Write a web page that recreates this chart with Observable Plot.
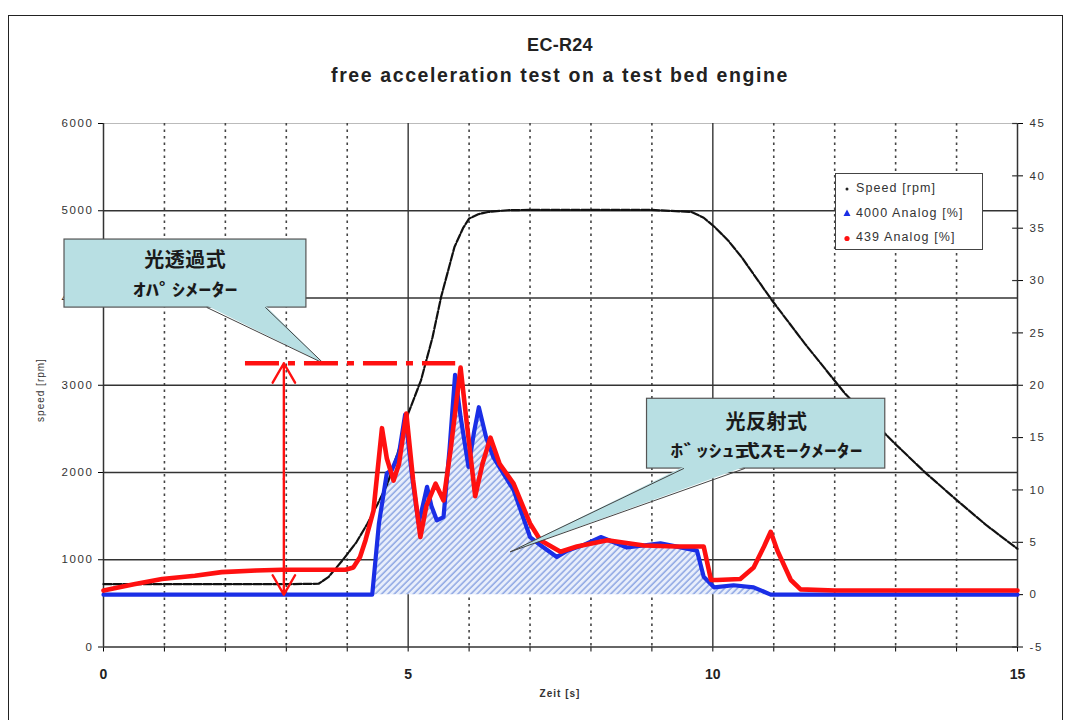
<!DOCTYPE html>
<html><head><meta charset="utf-8">
<script src="https://cdn.jsdelivr.net/npm/d3@7"></script>
<script src="https://cdn.jsdelivr.net/npm/@observablehq/plot@0.6"></script>
<style>
html,body{margin:0;padding:0;background:#fff;width:1071px;height:720px;overflow:hidden;font-family:"Liberation Sans",Arial,sans-serif;}
#frame{position:absolute;left:8px;top:15px;width:1055px;height:730px;border:1px solid #222;box-sizing:border-box;}
#title{position:absolute;left:60px;top:30px;width:1000px;text-align:center;font-weight:bold;color:#222;line-height:30px;}
#title .t1{font-size:18px;letter-spacing:0.3px;}
#title .t2{font-size:19.5px;letter-spacing:1.6px;}
#chart{position:absolute;left:0;top:96px;}
#ylab{position:absolute;left:40px;top:390px;transform:translate(-50%,-50%) rotate(-90deg);font-size:10px;color:#333;letter-spacing:1px;white-space:nowrap;}
#xlab{position:absolute;left:560px;top:693px;transform:translate(-50%,-50%);font-size:10px;color:#333;letter-spacing:1px;font-weight:bold;white-space:nowrap;}
#legend{position:absolute;left:835px;top:173px;width:148px;height:77px;box-sizing:border-box;border:1.5px solid #444;background:#fff;font-size:12.5px;color:#333;letter-spacing:1.1px;}
#legend .row{position:absolute;left:6px;height:20px;line-height:20px;white-space:nowrap;}
#legend svg{vertical-align:middle;margin-right:4px;}
</style></head>
<body>
<div id="frame"></div>
<div id="title"><div class="t1">EC-R24</div><div class="t2">free acceleration test on a test bed engine</div></div>
<div id="chart"></div>
<div id="ylab">speed [rpm]</div>
<div id="xlab">Zeit [s]</div>
<div id="legend"></div>
<script>
// ---- data ----
const speedT   = [0, 1, 2, 3, 3.53, 3.69, 3.93, 4.15, 4.33, 4.5, 4.66, 4.85, 5.0, 5.21, 5.4, 5.54, 5.76, 5.9, 6.0, 6.15, 6.31, 6.63, 7, 8, 9, 9.65, 9.85, 10.03, 10.25, 10.47, 10.97, 11.51, 12.17, 12.99, 13.5, 14.04, 14.5, 15];
const speedRpm = [720, 720, 720, 720, 725, 800, 1000, 1200, 1413, 1640, 1872, 2270, 2674, 3056, 3550, 4011, 4585, 4800, 4910, 4960, 4986, 5006, 5010, 5010, 5010, 4986, 4920, 4814, 4660, 4470, 3974, 3477, 2904, 2330, 1990, 1661, 1390, 1126];

const blueT   = [0, 4.41, 4.52, 4.65, 4.73, 4.85, 4.95, 5.06, 5.17, 5.24, 5.31, 5.38, 5.47, 5.58, 5.68, 5.77, 5.86, 5.99, 6.08, 6.16, 6.28, 6.4, 6.73, 7.0, 7.2, 7.44, 7.61, 7.9, 8.16, 8.59, 9.14, 9.74, 9.85, 10.02, 10.34, 10.67, 10.95, 15];
const bluePct = [0, 0, 6.8, 11.6, 11.9, 13.5, 17.2, 11.5, 6.8, 8.5, 10.3, 8.5, 7.1, 7.4, 14, 21.0, 17, 12.2, 15.5, 17.9, 15, 13.1, 10.0, 5.5, 4.6, 3.6, 4.2, 4.8, 5.5, 4.5, 4.9, 4.2, 1.7, 0.7, 0.9, 0.7, 0, 0];

const redT   = [0, 0.5, 0.96, 1.5, 1.94, 2.5, 2.93, 3.5, 3.97, 4.1, 4.21, 4.3, 4.43, 4.57, 4.65, 4.76, 4.85, 4.97, 5.08, 5.2, 5.3, 5.45, 5.58, 5.7, 5.86, 5.95, 6.1, 6.22, 6.35, 6.5, 6.73, 7.0, 7.17, 7.5, 7.77, 8.27, 8.87, 9.4, 9.85, 9.97, 10.07, 10.45, 10.67, 10.84, 10.95, 11.06, 11.28, 11.44, 12, 13, 14, 15];
const redPct = [0.4, 1.0, 1.5, 1.8, 2.15, 2.3, 2.38, 2.38, 2.38, 2.6, 3.6, 5.2, 8.0, 15.9, 13, 10.9, 12.5, 17.3, 11, 5.5, 8.5, 10.6, 9.0, 14, 21.7, 17, 9.4, 12.5, 15.0, 12.5, 10.6, 6.8, 5.2, 4.1, 4.6, 5.2, 4.7, 4.6, 4.6, 1.4, 1.4, 1.5, 2.6, 4.6, 6.0, 4.2, 1.4, 0.5, 0.4, 0.4, 0.4, 0.4];

const leftTicks   = [0, 1000, 2000, 3000, 4000, 5000, 6000];
const rightTicks  = [-5, 0, 5, 10, 15, 20, 25, 30, 35, 40, 45];
const xTickValues = [0, 1, 2, 3, 4, 5, 6, 7, 8, 9, 10, 11, 12, 13, 14, 15];
const xTickLabels = ["0", "", "", "", "", "5", "", "", "", "", "10", "", "", "", "", "15"];
const gridRpm     = [1000, 2000, 3000, 4000, 5000];
const gridMajorT  = [5, 10];
const gridMinorT  = [1, 2, 3, 4, 6, 7, 8, 9, 11, 12, 13, 14];

const seriesNames = ["Speed [rpm]", "4000 Analog [%]", "439 Analog [%]"];
const callout1 = {id: "c1", lines: ["光透過式", "ｵﾊﾟｼﾒｰﾀｰ"], line2Len: 105, t1: -0.64, t2: 3.33, r1: 3890, r2: 4670, baseT: [1.70, 2.66], tipT: 3.61, tipPct: 22.1, textT: 1.34, textR: [4425, 4090]};
const callout2 = {id: "c2", lines: ["光反射式", "ﾎﾞｯｼｭ式ｽﾓｰｸﾒｰﾀｰ"], line2Len: 192, t1: 8.92, t2: 12.83, r1: 2045, r2: 2845, baseT: [9.52, 10.52], tipT: 6.68, tipPct: 4.1, textT: 10.88, textR: [2570, 2240]};
const opacLevel = {pct: 22.1, t1: 2.33, t2: 5.78, arrowT: 2.96, basePct: 0};

// ---- helpers ----
const toRpm = p => (p + 5) * 120;   // right axis (%) -> left axis (rpm)
const speed = speedT.map((t, i) => ({t, rpm: speedRpm[i]}));
const blue  = blueT.map((t, i) => ({t, pct: bluePct[i]}));
const red   = redT.map((t, i) => ({t, pct: redPct[i]}));

const fillC = "#b8dfe3";
function calloutMarks(c) {
  const tip = {t: c.tipT, r: toRpm(c.tipPct)};
  const poly = [{t: c.baseT[0], r: c.r1 + 20}, tip, {t: c.baseT[1], r: c.r1 + 20}];
  return [
    Plot.rect([c], {x1: "t1", x2: "t2", y1: "r1", y2: "r2", fill: fillC, stroke: "#555", strokeWidth: 1.2}),
    Plot.line(poly, {x: "t", y: "r", fill: fillC, stroke: "none"}),
    Plot.line([{t: c.baseT[0], r: c.r1}, tip], {x: "t", y: "r", stroke: "#444", strokeWidth: 1}),
    Plot.line([{t: c.baseT[1], r: c.r1}, tip], {x: "t", y: "r", stroke: "#444", strokeWidth: 1}),
    Plot.text([c.lines[0]], {x: c.textT, y: c.textR[0], text: d => d, fontSize: 20, fontWeight: "bold", fill: "#1a1a1a", fontFamily: "Noto Sans CJK JP", className: "cjk1"}),
    Plot.text([c.lines[1]], {x: c.textT, y: c.textR[1], text: d => d, fontSize: 17, fontWeight: "bold", fill: "#1a1a1a", fontFamily: "Noto Sans CJK JP", className: "cjk2 " + c.id})
  ];
}

const mid = (opacLevel.pct + opacLevel.basePct) / 2;
const plot = Plot.plot({
  width: 1071, height: 624,
  marginLeft: 103, marginRight: 54, marginTop: 27, marginBottom: 73.5,
  x: {domain: [0, 15]},
  y: {domain: [0, 6000]},
  style: {background: "transparent", fontFamily: "Liberation Sans, Arial, sans-serif", overflow: "visible"},
  marks: [
    Plot.ruleY([6000], {stroke: "#bbb", strokeWidth: 1}),
    Plot.ruleX(gridMinorT, {stroke: "#444", strokeWidth: 1.6, strokeDasharray: "2.5,4"}),
    Plot.ruleX(gridMajorT, {stroke: "#333", strokeWidth: 1.4}),
    Plot.ruleY(gridRpm, {stroke: "#333", strokeWidth: 1.3}),
    Plot.axisY({anchor: "left", ticks: leftTicks, tickSize: 5, tickPadding: 5, fontSize: 11.5, label: null, tickFormat: d => String(d)}),
    Plot.axisY({anchor: "right", ticks: rightTicks.map(toRpm), tickSize: 5, tickPadding: 7, fontSize: 11.5, label: null, tickFormat: d => String(Math.round(d / 120 - 5))}),
    Plot.ruleY(rightTicks.map(toRpm), {x1: 14.92, x2: 15, stroke: "#333", strokeWidth: 1.2}),
    Plot.axisX({ticks: xTickValues, tickSize: 5, tickPadding: 17, fontSize: 14, fontWeight: "bold", label: null, tickFormat: d => xTickLabels[xTickValues.indexOf(d)]}),
    Plot.ruleX([0, 15], {stroke: "#333", strokeWidth: 1.5}),
    Plot.ruleY([0], {stroke: "#333", strokeWidth: 1.5}),
    Plot.areaY(blue, {x: "t", y1: toRpm(0), y2: d => toRpm(d.pct), fill: "url(#hatch)"}),
    Plot.line(speed, {x: "t", y: "rpm", stroke: "#111", strokeWidth: 2.2, strokeDasharray: "8,2"}),
    Plot.line(blue, {x: "t", y: d => toRpm(d.pct), stroke: "#1a2ee6", strokeWidth: 4.2, strokeLinejoin: "round"}),
    Plot.line(red, {x: "t", y: d => toRpm(d.pct), stroke: "#ff1010", strokeWidth: 4.6, strokeLinejoin: "round"}),
    ...calloutMarks(callout1),
    ...calloutMarks(callout2),
    Plot.ruleY([opacLevel], {y: d => toRpm(d.pct), x1: "t1", x2: "t2", stroke: "#ff1010", strokeWidth: 4.5, strokeDasharray: "34,9,7,9"}),
    Plot.arrow([opacLevel], {x1: "arrowT", x2: "arrowT", y1: toRpm(mid), y2: d => toRpm(d.pct), stroke: "#ff1010", strokeWidth: 2.4, headLength: 14}),
    Plot.arrow([opacLevel], {x1: "arrowT", x2: "arrowT", y1: toRpm(mid), y2: d => toRpm(d.basePct), stroke: "#ff1010", strokeWidth: 2.4, headLength: 14})
  ]
});

// hatch pattern for the area under the 4000 series
const defs = d3.select(plot).insert("defs", ":first-child");
const pat = defs.append("pattern").attr("id", "hatch").attr("patternUnits", "userSpaceOnUse")
  .attr("width", 4.5).attr("height", 4.5).attr("patternTransform", "rotate(45)");
pat.append("rect").attr("width", 4.5).attr("height", 4.5).attr("fill", "#e8eefb");
pat.append("line").attr("x1", 1).attr("y1", 0).attr("x2", 1).attr("y2", 4.5).attr("stroke", "#7f9be0").attr("stroke-width", 1.3);

// text styling tweaks
d3.select(plot).selectAll('g[aria-label="y-axis tick label"] text').attr("letter-spacing", "1.6px").attr("fill", "#333");
d3.select(plot).selectAll('g[aria-label="x-axis tick label"] text').attr("fill", "#222");
d3.select(plot).selectAll(".cjk1 text").attr("letter-spacing", "0.5px");
[callout1, callout2].forEach(c => {
  d3.select(plot).selectAll("." + c.id + " text").attr("textLength", c.line2Len).attr("lengthAdjust", "spacingAndGlyphs");
});
document.getElementById("chart").appendChild(plot);

// legend
const leg = document.getElementById("legend");
const syms = [
  '<svg width="10" height="10"><circle cx="5" cy="5" r="1.5" fill="#222"/></svg>',
  '<svg width="10" height="10"><path d="M5,1.5 L8.5,8 L1.5,8 Z" fill="#1a2ee6"/></svg>',
  '<svg width="10" height="10"><circle cx="5" cy="5.5" r="2.6" fill="#ff1010"/></svg>'
];
seriesNames.forEach((n, i) => {
  const r = document.createElement("div");
  r.className = "row";
  r.style.top = (4 + i * 24.5) + "px";
  r.innerHTML = syms[i] + n;
  leg.appendChild(r);
});
</script>
</body></html>
